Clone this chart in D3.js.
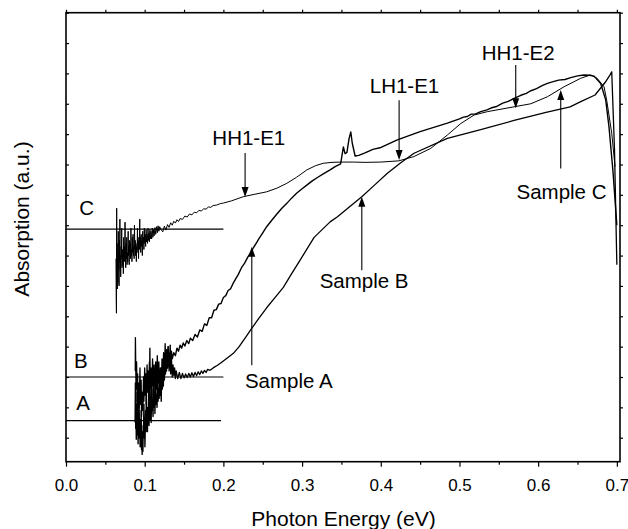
<!DOCTYPE html>
<html>
<head>
<meta charset="utf-8">
<script src="https://cdn.jsdelivr.net/npm/d3@7"></script>
<style>
  body { margin: 0; background: #fff; }
  svg { display: block; font-family: "Liberation Sans", Arial, sans-serif; }
</style>
</head>
<body>
<svg id="chart" width="628" height="529"></svg>
<script>
// Sample A: [photon energy (eV), absorption (a.u.)]
const sampleA = [
  [0.0878, 1.5], [0.0882, 2.8], [0.0886, 1.3], [0.0889, 2.1], [0.0893, 0.95], [0.0897, 1.7], [0.0901, 1.1], [0.0905, 2.5],
  [0.0908, 1.4], [0.0912, 1.9], [0.0916, 0.8], [0.092, 1.5], [0.0925, 1.0], [0.0929, 2.2], [0.0933, 1.2], [0.0937, 1.6],
  [0.0942, 0.7], [0.0947, 1.3], [0.0951, 0.9], [0.0955, 1.9], [0.096, 0.6], [0.0964, 1.0], [0.0968, 0.45], [0.0972, 1.2],
  [0.0977, 0.55], [0.0981, 1.4], [0.0985, 1.1], [0.099, 2.1], [0.0994, 1.0], [0.0998, 1.6], [0.1003, 0.7], [0.1007, 1.3],
  [0.1012, 1.9], [0.1016, 1.2], [0.1021, 2.4], [0.1025, 1.5], [0.103, 1.8], [0.1035, 1.2], [0.104, 2.0], [0.1045, 1.5],
  [0.105, 2.3], [0.1055, 1.4], [0.106, 1.9], [0.1066, 3.95], [0.107, 1.6], [0.1076, 2.3], [0.1082, 1.5], [0.1088, 2.6],
  [0.1094, 1.9], [0.110, 2.2], [0.1106, 1.7], [0.1112, 2.9], [0.1118, 2.0], [0.1124, 2.5], [0.113, 1.8], [0.1137, 2.7],
  [0.1144, 2.1], [0.115, 2.4], [0.1157, 2.0], [0.1164, 3.0], [0.117, 2.2], [0.1177, 2.6], [0.1184, 2.3], [0.119, 3.1],
  [0.1197, 2.4], [0.1204, 2.8], [0.121, 2.2], [0.1217, 3.3], [0.1224, 2.6], [0.123, 3.0], [0.1237, 2.7], [0.1244, 3.5],
  [0.125, 2.9], [0.1257, 3.4], [0.1264, 3.1], [0.127, 3.9], [0.1277, 3.2], [0.1284, 3.6], [0.129, 3.3], [0.1297, 4.0],
  [0.1304, 3.4], [0.131, 3.7], [0.1317, 3.5], [0.1324, 4.05], [0.133, 3.5], [0.134, 3.85], [0.135, 3.6], [0.137, 3.8],
  [0.139, 3.7], [0.141, 3.95], [0.143, 3.85], [0.145, 4.05], [0.147, 3.95], [0.149, 4.12], [0.151, 4.02], [0.1535, 4.2],
  [0.156, 4.1], [0.158, 4.28], [0.161, 4.2], [0.164, 4.4], [0.167, 4.32], [0.170, 4.55], [0.173, 4.5], [0.176, 4.75],
  [0.179, 4.7], [0.182, 4.95], [0.185, 4.95], [0.188, 5.2], [0.191, 5.22], [0.194, 5.4], [0.197, 5.42], [0.200, 5.62],
  [0.203, 5.68], [0.206, 5.85], [0.209, 5.9], [0.2127, 6.1], [0.216, 6.25], [0.219, 6.38], [0.223, 6.6], [0.227, 6.75],
  [0.231, 6.95], [0.234, 7.07], [0.238, 7.25], [0.242, 7.42], [0.245, 7.55], [0.250, 7.75], [0.255, 7.95], [0.262, 8.18],
  [0.268, 8.37], [0.274, 8.55], [0.2806, 8.72], [0.287, 8.9], [0.293, 9.05], [0.300, 9.2], [0.306, 9.32], [0.313, 9.46],
  [0.320, 9.58], [0.328, 9.71], [0.3356, 9.82], [0.342, 9.93], [0.349, 10.02], [0.3525, 10.58], [0.3546, 10.36], [0.357, 10.4],
  [0.3597, 10.85], [0.3619, 11.07], [0.3638, 10.7], [0.3674, 10.28], [0.372, 10.3], [0.380, 10.38], [0.390, 10.5], [0.399, 10.55],
  [0.421, 10.81], [0.450, 11.08], [0.4846, 11.36], [0.500, 11.5], [0.505, 11.56], [0.510, 11.58], [0.515, 11.66], [0.520, 11.66],
  [0.527, 11.74], [0.535, 11.8], [0.540, 11.86], [0.548, 11.92], [0.555, 12.02], [0.562, 12.08], [0.5694, 12.18], [0.578, 12.28],
  [0.585, 12.34], [0.590, 12.42], [0.598, 12.5], [0.605, 12.6], [0.6117, 12.67], [0.618, 12.72], [0.626, 12.78], [0.634, 12.8],
  [0.6414, 12.86], [0.650, 12.92], [0.6583, 12.95], [0.665, 12.94], [0.671, 12.91], [0.6795, 12.67], [0.6859, 12.12], [0.690, 11.24],
  [0.695, 9.8], [0.700, 8.0]
];

// Sample B
const sampleB = [
  [0.088, 3.2], [0.0882, 4.3], [0.089, 2.6], [0.0897, 3.5], [0.0905, 2.2], [0.091, 3.1], [0.0918, 1.9], [0.0925, 2.8],
  [0.093, 2.0], [0.094, 3.3], [0.0947, 2.1], [0.0955, 2.9], [0.096, 1.7], [0.097, 2.5], [0.0977, 1.9], [0.0985, 3.0],
  [0.099, 2.2], [0.100, 3.3], [0.1007, 2.4], [0.1015, 3.1], [0.102, 2.1], [0.103, 3.4], [0.1037, 2.5], [0.1045, 3.2],
  [0.105, 2.3], [0.106, 3.5], [0.107, 2.6], [0.108, 3.3], [0.109, 2.4], [0.110, 3.6], [0.111, 2.7], [0.112, 3.4],
  [0.113, 2.5], [0.114, 3.5], [0.115, 2.6], [0.116, 3.7], [0.117, 2.8], [0.118, 3.5], [0.119, 2.4], [0.120, 3.3],
  [0.121, 2.6], [0.122, 3.6], [0.123, 2.9], [0.124, 3.8], [0.125, 3.0], [0.126, 4.1], [0.127, 3.2], [0.128, 3.9],
  [0.129, 3.3], [0.130, 4.0], [0.131, 3.2], [0.132, 3.8], [0.133, 3.1], [0.134, 3.6], [0.135, 3.0], [0.136, 3.4],
  [0.137, 3.05], [0.138, 3.3], [0.139, 2.95], [0.140, 3.2], [0.142, 2.95], [0.144, 3.15], [0.146, 2.95], [0.148, 3.12],
  [0.150, 2.97], [0.152, 3.1], [0.154, 2.98], [0.156, 3.12], [0.158, 3.0], [0.160, 3.14], [0.162, 3.02], [0.164, 3.15],
  [0.166, 3.05], [0.168, 3.17], [0.170, 3.08], [0.172, 3.2], [0.174, 3.12], [0.176, 3.22], [0.178, 3.15], [0.180, 3.25],
  [0.183, 3.22], [0.187, 3.3], [0.192, 3.38], [0.197, 3.47], [0.202, 3.57], [0.207, 3.67], [0.2127, 3.78], [0.220, 4.0],
  [0.228, 4.3], [0.236, 4.6], [0.245, 4.93], [0.255, 5.28], [0.265, 5.6], [0.2762, 5.95], [0.285, 6.33], [0.2975, 6.85],
  [0.3153, 7.6], [0.3356, 8.11], [0.345, 8.28], [0.360, 8.6], [0.3759, 8.94], [0.392, 9.32], [0.4084, 9.71], [0.425, 10.05],
  [0.4423, 10.37], [0.4846, 10.86], [0.527, 11.15], [0.5694, 11.45], [0.610, 11.72], [0.6406, 11.9], [0.6541, 12.07], [0.6723, 12.29],
  [0.685, 12.7], [0.6914, 12.95], [0.6935, 13.05], [0.697, 10.5], [0.700, 6.7]
];

// Sample C
const sampleC = [
  [0.0635, 6.9], [0.0638, 5.6], [0.0641, 5.1], [0.0644, 8.56], [0.0647, 6.3], [0.065, 7.4], [0.0653, 5.9], [0.0657, 6.9],
  [0.066, 6.1], [0.0664, 7.8], [0.0667, 6.6], [0.067, 7.1], [0.0674, 6.0], [0.0678, 7.5], [0.0681, 6.8], [0.0685, 8.2],
  [0.0688, 6.5], [0.0692, 7.0], [0.0695, 6.3], [0.070, 7.3], [0.0704, 6.9], [0.0708, 7.9], [0.0712, 6.6], [0.0716, 7.2],
  [0.072, 6.7], [0.0725, 7.0], [0.0729, 6.4], [0.0733, 7.6], [0.0738, 6.9], [0.0742, 7.3], [0.0746, 6.8], [0.075, 8.1],
  [0.0755, 7.0], [0.0759, 6.6], [0.0763, 7.4], [0.0768, 6.9], [0.0772, 7.6], [0.0776, 6.7], [0.078, 7.1], [0.0785, 6.8],
  [0.079, 7.8], [0.0794, 7.0], [0.0798, 7.3], [0.0803, 6.7], [0.0808, 7.5], [0.0812, 7.1], [0.0816, 7.4], [0.082, 6.9],
  [0.0825, 7.9], [0.083, 7.0], [0.0834, 7.2], [0.0838, 6.8], [0.0843, 7.6], [0.0848, 7.1], [0.0852, 7.7], [0.0857, 7.0],
  [0.0861, 7.3], [0.0866, 6.9], [0.087, 8.0], [0.0875, 7.2], [0.088, 7.5], [0.0884, 7.0], [0.0889, 7.4], [0.0894, 6.8],
  [0.0898, 7.3], [0.0903, 7.1], [0.0908, 7.9], [0.0913, 7.2], [0.0917, 7.5], [0.0922, 6.9], [0.0927, 7.6], [0.0932, 7.2],
  [0.0937, 8.2], [0.0941, 7.3], [0.0946, 7.6], [0.095, 7.1], [0.0955, 7.7], [0.096, 7.3], [0.0965, 7.5], [0.097, 7.0],
  [0.0975, 7.8], [0.098, 7.4], [0.0985, 7.6], [0.099, 7.2], [0.0995, 7.9], [0.100, 7.4], [0.1006, 7.7], [0.1012, 7.3],
  [0.1018, 7.85], [0.1024, 7.45], [0.103, 7.7], [0.1036, 7.4], [0.1042, 7.9], [0.1048, 7.5], [0.1054, 7.75], [0.106, 7.45],
  [0.1066, 7.85], [0.1072, 7.55], [0.108, 7.8], [0.1088, 7.55], [0.1096, 7.9], [0.1104, 7.6], [0.1112, 7.85], [0.112, 7.65],
  [0.113, 7.92], [0.114, 7.7], [0.115, 7.95], [0.116, 7.75], [0.117, 7.98], [0.118, 7.8], [0.119, 7.95], [0.121, 7.85],
  [0.123, 7.78], [0.125, 7.97], [0.127, 7.84], [0.129, 8.02], [0.131, 7.93], [0.133, 8.08], [0.135, 8.0], [0.137, 8.13],
  [0.139, 8.07], [0.141, 8.18], [0.143, 8.12], [0.145, 8.22], [0.148, 8.19], [0.151, 8.3], [0.154, 8.27], [0.157, 8.37],
  [0.160, 8.34], [0.163, 8.43], [0.166, 8.41], [0.169, 8.49], [0.172, 8.47], [0.175, 8.54], [0.178, 8.53], [0.181, 8.6],
  [0.184, 8.59], [0.187, 8.65], [0.191, 8.66], [0.196, 8.71], [0.200, 8.73], [0.210, 8.8], [0.2254, 8.94], [0.240, 9.02],
  [0.255, 9.1], [0.268, 9.22], [0.2806, 9.38], [0.293, 9.58], [0.306, 9.82], [0.317, 9.96], [0.327, 10.04], [0.338, 10.07],
  [0.349, 10.08], [0.365, 10.08], [0.380, 10.07], [0.400, 10.08], [0.423, 10.12], [0.442, 10.26], [0.4635, 10.53], [0.4846, 10.97],
  [0.5017, 11.35], [0.5186, 11.63], [0.5354, 11.74], [0.5694, 11.9], [0.5906, 12.0], [0.6117, 12.23], [0.6329, 12.56], [0.6541, 12.84],
  [0.6668, 12.95], [0.6749, 12.84], [0.6837, 12.56], [0.6872, 12.1], [0.6935, 11.03], [0.6977, 9.93]
];

// baselines for each sample (letter, level, end of line, letter position)
const baseNames = ["C", "B", "A"];
const baseLevels = [7.874, 3.0, 1.56];
const baseEnds = [0.2, 0.2, 0.197];
const baseLetterX = [0.0262, 0.0188, 0.0217];
const baseLetterY = [8.34, 3.29, 1.91];

// annotations with arrows
const noteLabels = ["HH1-E1", "LH1-E1", "HH1-E2", "Sample C", "Sample B", "Sample A"];
const noteTextX = [0.2323, 0.4302, 0.5745, 0.6297, 0.3788, 0.2831];
const noteTextY = [10.64, 12.35, 13.44, 8.85, 5.92, 2.63];
const arrowX = [0.2276, 0.4233, 0.5715, 0.6287, 0.3759, 0.2361];
const arrowFrom = [10.38, 12.12, 13.28, 9.87, 6.52, 3.39];
const arrowTo = [8.93, 10.15, 11.85, 12.45, 8.94, 7.29];

// ticks
const xMajor = [0, 0.1, 0.2, 0.3, 0.4, 0.5, 0.6, 0.7];
const xMinor = [0.05, 0.15, 0.25, 0.35, 0.45, 0.55, 0.65];
const yTicks = [1, 2, 3, 4, 5, 6, 7, 8, 9, 10, 11, 12, 13, 14, 15];

// setup
const width = 628, height = 529;
const margin = { top: 12.7, right: 8, bottom: 67.3, left: 66 };
const svg = d3.select("#chart");

const x = d3.scaleLinear().domain([0, 0.704]).range([margin.left, width - margin.right]);
const y = d3.scaleLinear().domain([0.21, 15]).range([height - margin.bottom, margin.top]);

svg.append("defs").append("clipPath").attr("id", "plot-clip")
  .append("rect")
  .attr("x", margin.left).attr("y", margin.top)
  .attr("width", width - margin.left - margin.right)
  .attr("height", height - margin.top - margin.bottom);

const line = d3.line().x(d => x(d[0])).y(d => y(d[1]));

const curves = svg.append("g").attr("clip-path", "url(#plot-clip)");
[[sampleA, 1.4], [sampleB, 1.3], [sampleC, 1.0]].forEach(([data, w]) => {
  curves.append("path")
    .datum(data)
    .attr("d", line)
    .attr("fill", "none")
    .attr("stroke", "#000")
    .attr("stroke-width", w)
    .attr("stroke-linejoin", "round");
});

// baselines and letters
baseNames.forEach((name, i) => {
  svg.append("line")
    .attr("x1", x(0)).attr("x2", x(baseEnds[i]))
    .attr("y1", y(baseLevels[i])).attr("y2", y(baseLevels[i]))
    .attr("stroke", "#000").attr("stroke-width", 1.2);
  svg.append("text")
    .attr("x", x(baseLetterX[i])).attr("y", y(baseLetterY[i]))
    .attr("text-anchor", "middle")
    .attr("font-size", 20.5)
    .text(name);
});

// annotations
noteLabels.forEach((label, i) => {
  svg.append("text")
    .attr("x", x(noteTextX[i])).attr("y", y(noteTextY[i]))
    .attr("text-anchor", "middle")
    .attr("font-size", 20.5)
    .text(label);

  const ax = x(arrowX[i]);
  const y0 = y(arrowFrom[i]);
  const y1 = y(arrowTo[i]);
  const dir = y1 > y0 ? 1 : -1;
  svg.append("line")
    .attr("x1", ax).attr("x2", ax)
    .attr("y1", y0).attr("y2", y1 - dir * 6)
    .attr("stroke", "#000").attr("stroke-width", 1.1);
  svg.append("path")
    .attr("d", `M${ax},${y1} L${ax - 3.5},${y1 - dir * 10} L${ax + 3.5},${y1 - dir * 10} Z`)
    .attr("fill", "#000");
});

// axes
const bottomY = height - margin.bottom;
const rightX = width - margin.right;

function styleAxis(g) {
  g.select(".domain").remove();
  g.selectAll(".tick line").attr("stroke", "#000").attr("stroke-width", 1.2);
}

svg.append("g")
  .attr("transform", `translate(0,${bottomY})`)
  .call(d3.axisBottom(x).tickValues(xMajor).tickFormat(d3.format(".1f"))
    .tickSize(5).tickSizeOuter(0).tickPadding(12))
  .call(styleAxis)
  .call(g => g.selectAll("text").attr("font-size", 17).attr("fill", "#000")
    .attr("font-family", "'Liberation Sans', Arial, sans-serif"));

svg.append("g")
  .attr("transform", `translate(0,${bottomY})`)
  .call(d3.axisBottom(x).tickValues(xMinor).tickFormat("").tickSize(3).tickSizeOuter(0))
  .call(styleAxis);

svg.append("g")
  .attr("transform", `translate(0,${margin.top})`)
  .call(d3.axisTop(x).tickValues(xMajor.concat(xMinor)).tickFormat("").tickSize(3).tickSizeOuter(0))
  .call(styleAxis);

svg.append("g")
  .attr("transform", `translate(${margin.left},0)`)
  .call(d3.axisLeft(y).tickValues(yTicks).tickFormat("").tickSize(-3).tickSizeOuter(0))
  .call(styleAxis);

svg.append("g")
  .attr("transform", `translate(${rightX},0)`)
  .call(d3.axisRight(y).tickValues(yTicks).tickFormat("").tickSize(3).tickSizeOuter(0))
  .call(styleAxis);

// frame
svg.append("rect")
  .attr("x", margin.left).attr("y", margin.top)
  .attr("width", rightX - margin.left)
  .attr("height", bottomY - margin.top)
  .attr("fill", "none")
  .attr("stroke", "#000")
  .attr("stroke-width", 1.6);

// axis titles
svg.append("text")
  .attr("x", (margin.left + rightX) / 2 + 0.5)
  .attr("y", 526)
  .attr("text-anchor", "middle")
  .attr("font-size", 21)
  .text("Photon Energy (eV)");

svg.append("text")
  .attr("transform", "translate(29,219) rotate(-90)")
  .attr("text-anchor", "middle")
  .attr("font-size", 21)
  .text("Absorption (a.u.)");
</script>
</body>
</html>
